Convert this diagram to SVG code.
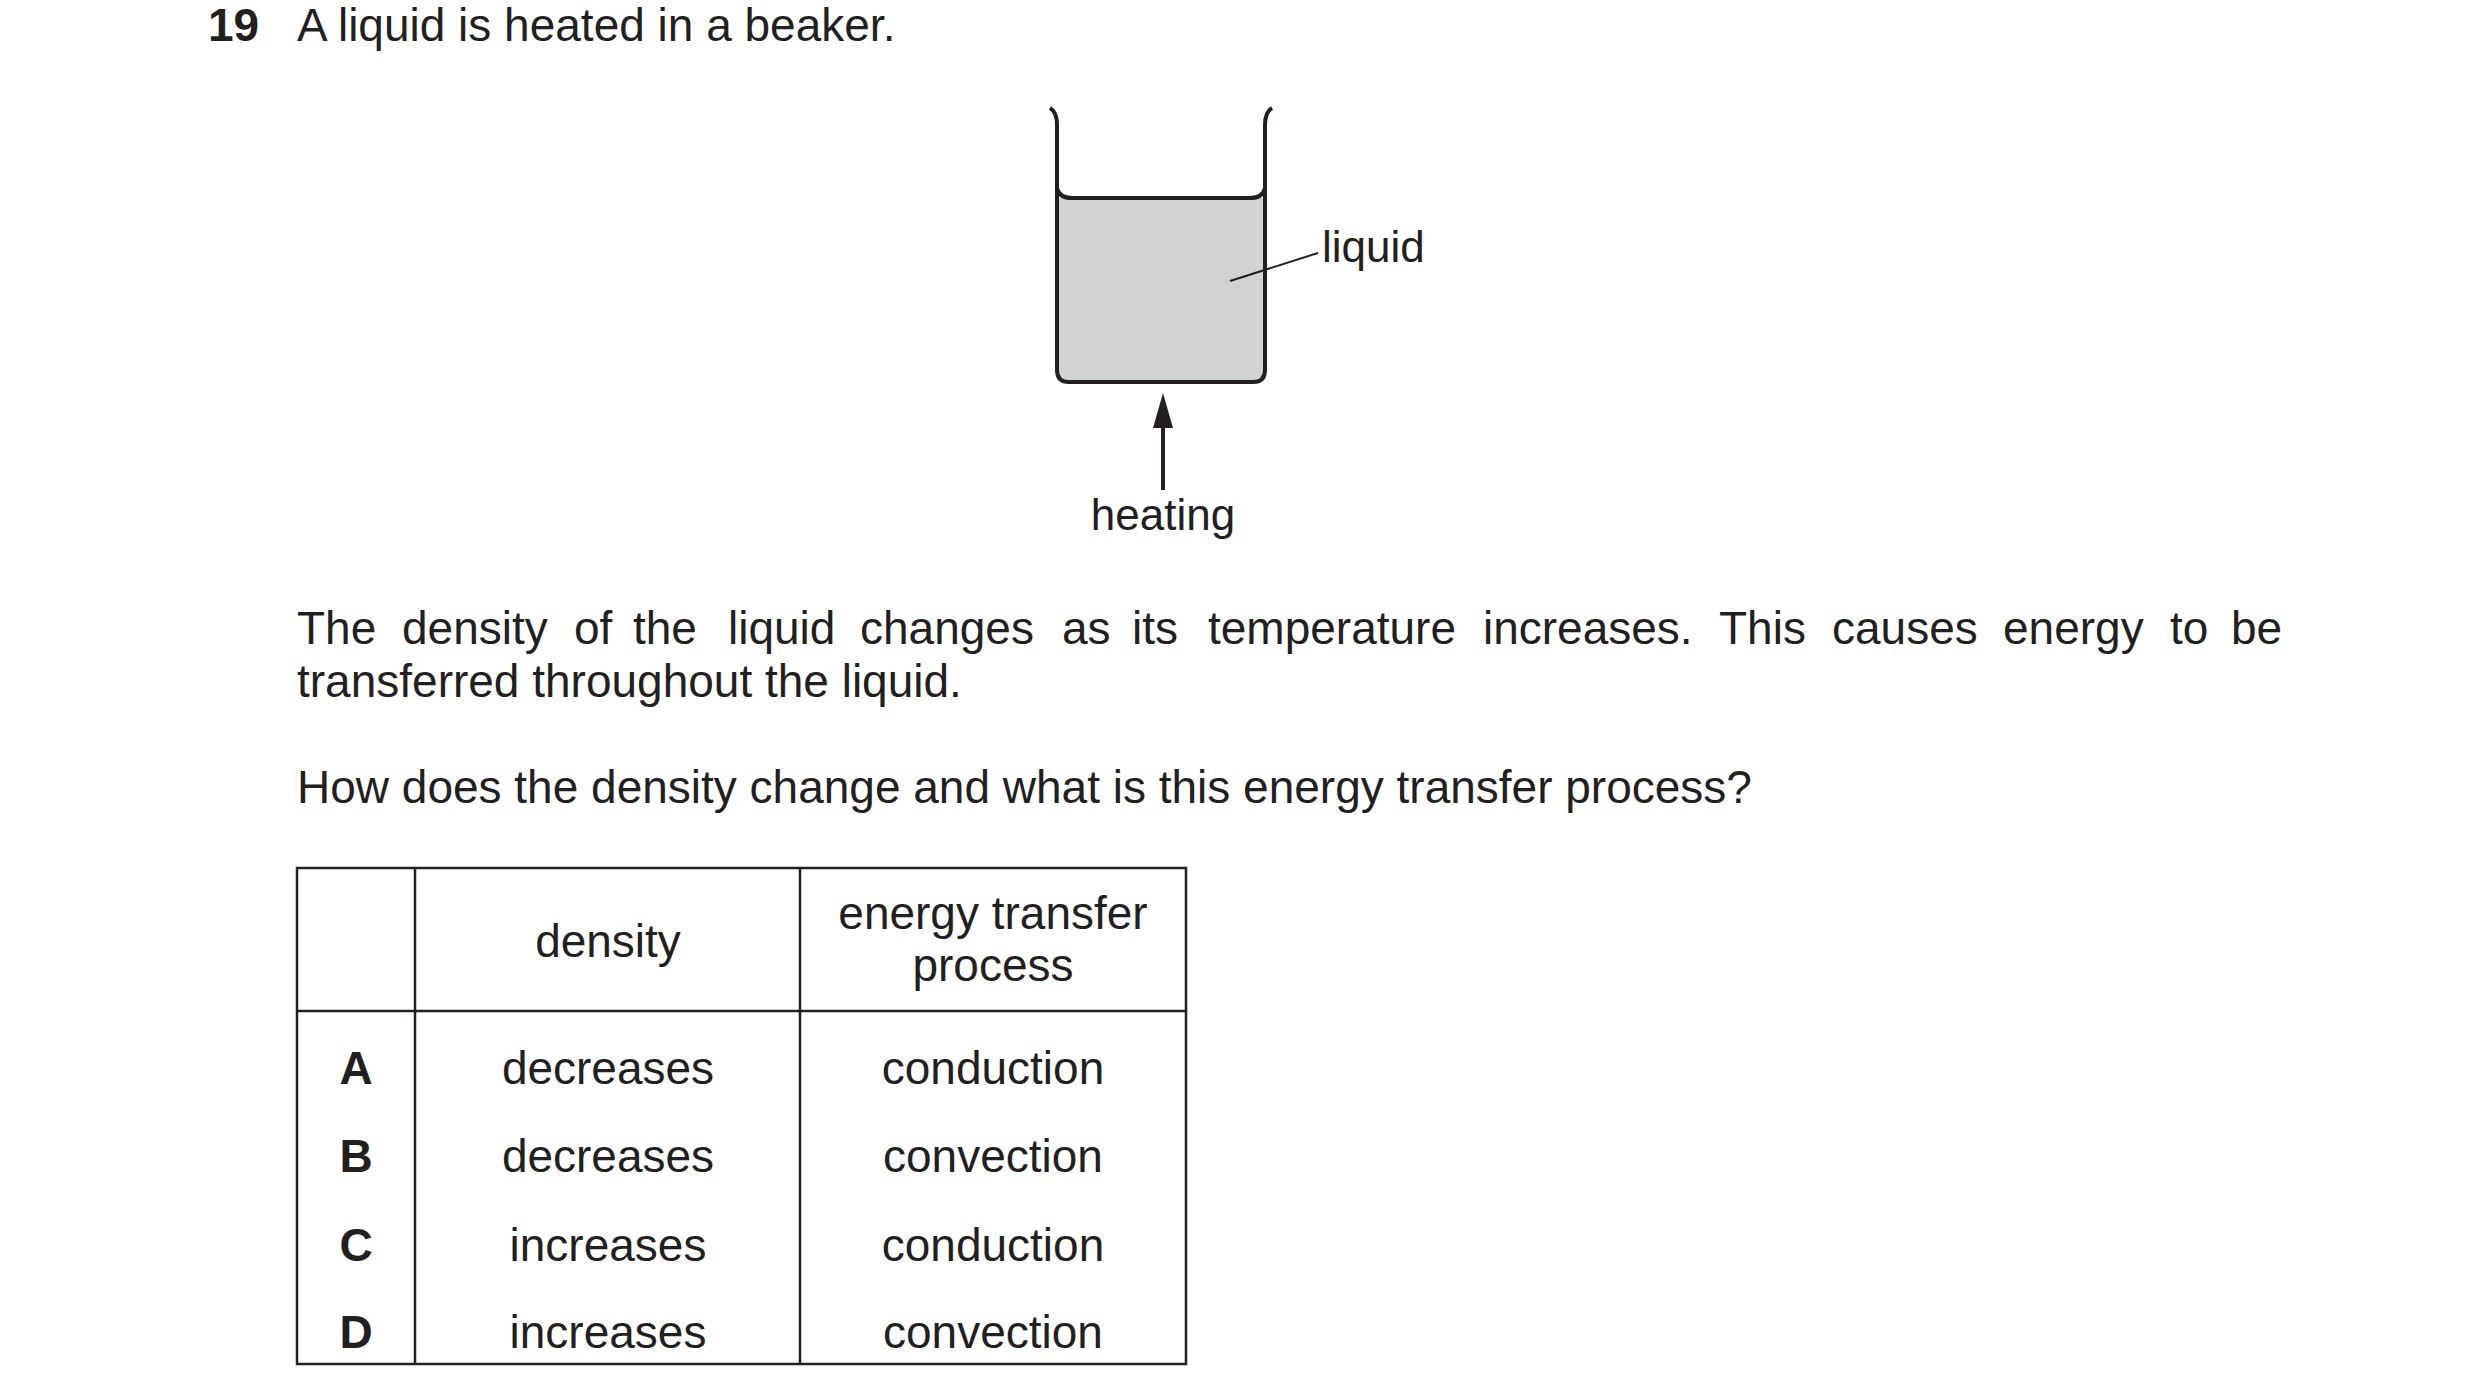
<svg xmlns="http://www.w3.org/2000/svg" width="2480" height="1399" viewBox="0 0 2480 1399">
<style>
text{font-family:"Liberation Sans",Arial,sans-serif;font-size:46px;fill:#231f20}
.b{font-weight:bold}
.m{text-anchor:middle}
.ln{stroke:#231f20;fill:none}
</style>
<rect width="2480" height="1399" fill="#fff"/>
<g id="question">
<text x="208" y="41" class="b">19</text>
<text x="297" y="41">A liquid is heated in a beaker.</text>
<text y="644"><tspan x="297">The</tspan><tspan x="402">density</tspan><tspan x="574">of</tspan><tspan x="633">the</tspan><tspan x="728">liquid</tspan><tspan x="860">changes</tspan><tspan x="1062">as</tspan><tspan x="1132">its</tspan><tspan x="1208">temperature</tspan><tspan x="1483">increases.</tspan><tspan x="1719">This</tspan><tspan x="1832">causes</tspan><tspan x="2003">energy</tspan><tspan x="2170">to</tspan><tspan x="2231">be</tspan></text>
<text x="297" y="697">transferred throughout the liquid.</text>
<text x="297" y="803">How does the density change and what is this energy transfer process?</text>
</g>
<g id="beaker">
<path d="M1057,198 H1265 V370 Q1265,382 1253,382 H1069 Q1057,382 1057,370 Z" fill="#d1d2d4"/>
<path class="ln" stroke-width="4" d="M1050,108 Q1057,112 1057,125 V370 Q1057,382 1069,382 H1253 Q1265,382 1265,370 V125 Q1265,112 1272,108"/>
<path class="ln" stroke-width="4" d="M1057,188 Q1059,198 1072,198 H1250 Q1263,198 1265,188"/>
</g>
<g id="labels">
<line class="ln" stroke-width="2" x1="1230" y1="281" x2="1318" y2="253"/>
<text x="1322" y="262" style="font-size:44px">liquid</text>
<text x="1163" y="530" class="m" style="font-size:44px">heating</text>
</g>
<g id="connectors">
<line class="ln" stroke-width="4" x1="1163" y1="490" x2="1163" y2="425"/>
<polygon points="1163,393 1153,428 1173,428" fill="#231f20"/>
</g>
<g id="table">
<rect x="297" y="868" width="889" height="496" class="ln" stroke-width="2.5"/>
<line class="ln" stroke-width="2.5" x1="415" y1="868" x2="415" y2="1364"/>
<line class="ln" stroke-width="2.5" x1="800" y1="868" x2="800" y2="1364"/>
<line class="ln" stroke-width="2.5" x1="297" y1="1011" x2="1186" y2="1011"/>
<text x="608" y="957" class="m">density</text>
<text x="993" y="929" class="m">energy transfer</text>
<text x="993" y="981" class="m">process</text>
<text x="356" y="1084" class="m b">A</text>
<text x="356" y="1172" class="m b">B</text>
<text x="356" y="1261" class="m b">C</text>
<text x="356" y="1348" class="m b">D</text>
<text x="608" y="1084" class="m">decreases</text>
<text x="608" y="1172" class="m">decreases</text>
<text x="608" y="1261" class="m">increases</text>
<text x="608" y="1348" class="m">increases</text>
<text x="993" y="1084" class="m">conduction</text>
<text x="993" y="1172" class="m">convection</text>
<text x="993" y="1261" class="m">conduction</text>
<text x="993" y="1348" class="m">convection</text>
</g>
</svg>
